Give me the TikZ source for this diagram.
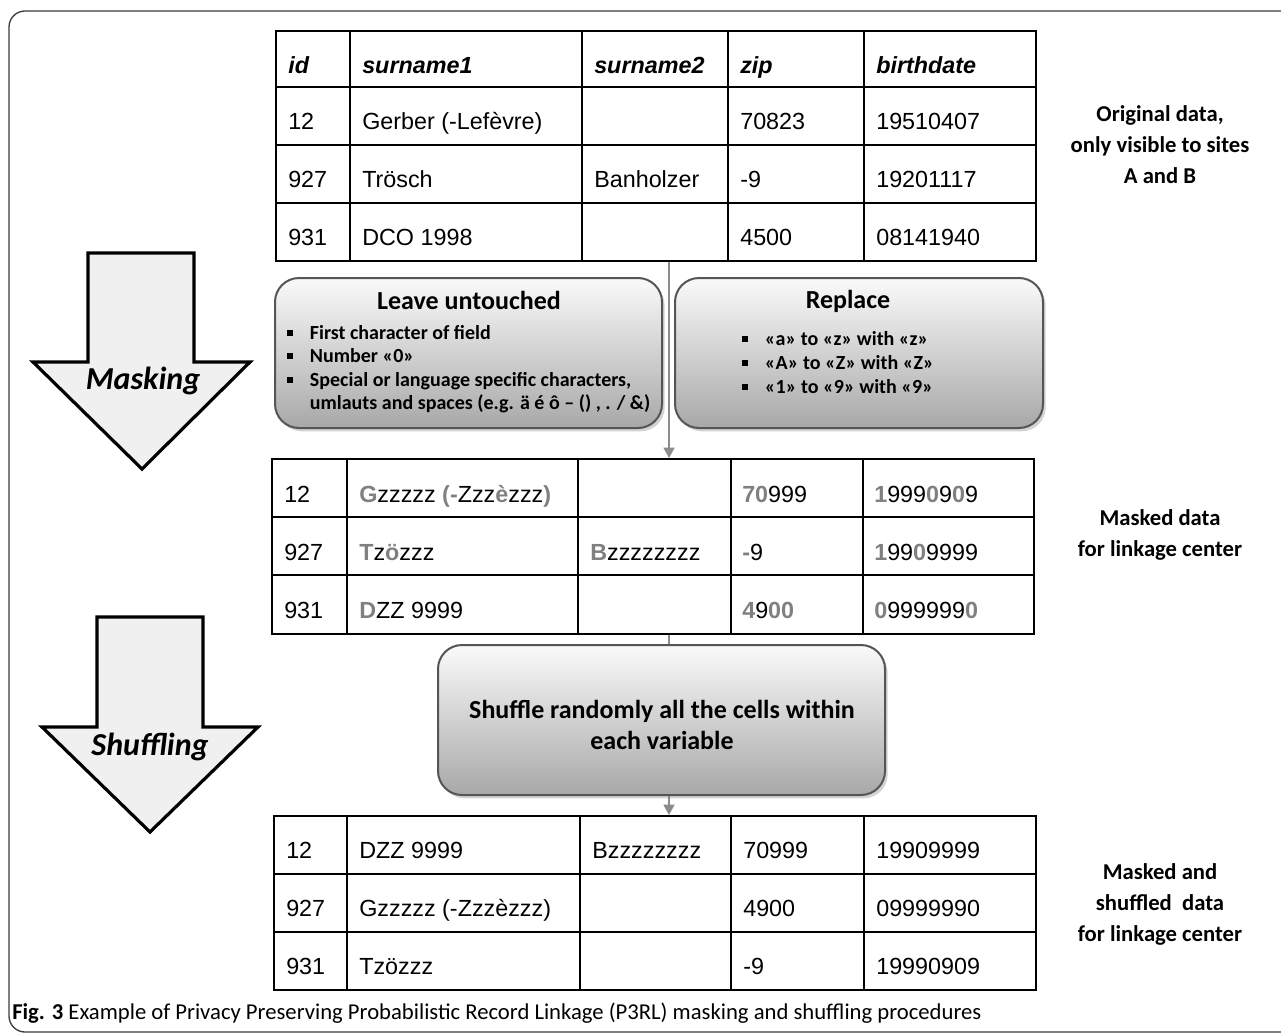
\documentclass[tikz,border=0pt]{standalone}
\usepackage{fontspec}
\setmainfont{Liberation Sans}
\newfontfamily\calfont{Carlito}
\usepackage{xcolor}
\usepackage{tikz}
\usetikzlibrary{arrows.meta, positioning, fit, calc, shadows}
\definecolor{framegray}{RGB}{60,60,60}
\definecolor{linkgray}{RGB}{140,140,140}
\definecolor{keepgray}{RGB}{128,128,128}
\definecolor{arrowfill}{RGB}{240,240,240}
\definecolor{boxtop}{RGB}{250,250,250}
\definecolor{boxbottom}{RGB}{168,168,168}
\definecolor{boxline}{RGB}{85,85,85}
\newcommand{\kp}[1]{\textcolor{keepgray}{\textbf{#1}}}
\newcommand{\bul}{\makebox[17pt][l]{\rule[2.5pt]{4.5pt}{4.5pt}}}
\tikzset{
  tabframe/.style={
      draw,
      line width=1.2pt,
      inner sep=0pt
  },
  gridline/.style={line width=1.2pt},
  cell/.style={
      anchor=base west,
      inner sep=0pt,
      font=\fontsize{17.5}{21}\selectfont
  },
  head/.style={
      cell,
      font=\fontsize{17.5}{21}\selectfont\bfseries\itshape
  },
  rulebox/.style={
      draw=boxline,
      line width=1.5pt,
      rounded corners=18pt,
      top color=boxtop,
      bottom color=boxbottom,
      drop shadow={shadow xshift=2pt, shadow yshift=-2.5pt, opacity=0.35},
      inner sep=0pt
  },
  boxtitle/.style={
      anchor=base,
      inner sep=0pt,
      font=\calfont\bfseries\fontsize{19.5}{23}\selectfont
  },
  bullets/.style={
      anchor=north west,
      inner sep=0pt,
      align=left
  },
  sidenote/.style={
      align=center,
      inner sep=0pt,
      font=\calfont\bfseries\fontsize{17}{23.25}\selectfont
  },
  stepshape/.style={draw, line width=2.4pt, fill=arrowfill, line join=miter},
  steplabel/.style={inner sep=0pt, font=\calfont\bfseries\itshape\fontsize{24}{28}\selectfont},
  link/.style={draw=linkgray, line width=2.2pt, -{Triangle[length=8pt,width=8pt]}}
}

\begin{document}
\begin{tikzpicture}[x=0.75pt, y=-0.75pt]
  \useasboundingbox (0,0) rectangle (1281,1035);
  % Outer frame
  \draw[framegray, line width=1pt, rounded corners=12pt] (1281,11) -- (9,11) -- (9,1032) -- (1281,1032);

  % Original data
  \node[tabframe, fit={(276,31)(1036,261)}] (orig) {};
  \foreach \x in {350,582,728,864} \draw[gridline] (\x,31) -- (\x,261);
  \foreach \y in {87,145,203} \draw[gridline] (276,\y) -- (1036,\y);
  \foreach \c/\x/\t in {1/288/id, 2/362/surname1, 3/594/surname2, 4/740/zip, 5/876/birthdate}
    \node[head] (orig-0-\c) at (\x,73) {\t};
  \foreach \r/\y/\a/\b/\c/\d/\e in {1/129/12/Gerber (-Lefèvre)//70823/19510407,
      2/187/927/Trösch/Banholzer/-9/19201117, 3/245/931/DCO 1998//4500/08141940} {
    \node[cell] (orig-\r-1) at (288,\y) {\a};
    \node[cell] (orig-\r-2) at (362,\y) {\b};
    \node[cell] (orig-\r-3) at (594,\y) {\c};
    \node[cell] (orig-\r-4) at (740,\y) {\d};
    \node[cell] (orig-\r-5) at (876,\y) {\e};
  }

  % Masked data
  \node[tabframe, fit={(272,459)(1034,634)}] (mask) {};
  \foreach \x in {347,578,731,863} \draw[gridline] (\x,459) -- (\x,634);
  \foreach \y in {517,575} \draw[gridline] (272,\y) -- (1034,\y);
  \foreach \r/\y/\a/\b/\c/\d/\e in {1/502/12/\kp{G}zzzzz \kp{(-}Zzz\kp{è}zzz\kp{)}//\kp{70}999/\kp{1}999\kp{0}9\kp{0}9,
      2/560/927/\kp{T}z\kp{ö}zzz/\kp{B}zzzzzzzz/\kp{-}9/\kp{1}99\kp{0}9999,
      3/618/931/\kp{D}ZZ 9999//\kp{4}9\kp{00}/\kp{0}999999\kp{0}} {
    \node[cell] (mask-\r-1) at (284,\y) {\a};
    \node[cell] (mask-\r-2) at (359,\y) {\b};
    \node[cell] (mask-\r-3) at (590,\y) {\c};
    \node[cell] (mask-\r-4) at (742,\y) {\d};
    \node[cell] (mask-\r-5) at (874,\y) {\e};
  }

  % Masked and shuffled data
  \node[tabframe, fit={(274,816)(1036,990)}] (final) {};
  \foreach \x in {347,580,731,864} \draw[gridline] (\x,816) -- (\x,990);
  \foreach \y in {874,932} \draw[gridline] (274,\y) -- (1036,\y);
  \foreach \r/\y/\a/\b/\c/\d/\e in {1/858/12/DZZ 9999/Bzzzzzzzz/70999/19909999,
      2/916/927/Gzzzzz (-Zzzèzzz)//4900/09999990, 3/974/931/Tzözzz//-9/19990909} {
    \node[cell] (final-\r-1) at (286,\y) {\a};
    \node[cell] (final-\r-2) at (359,\y) {\b};
    \node[cell] (final-\r-3) at (592,\y) {\c};
    \node[cell] (final-\r-4) at (743,\y) {\d};
    \node[cell] (final-\r-5) at (876,\y) {\e};
  }

  % Connections
  \coordinate (spine) at (669,0);
  \draw[link] (orig.south -| spine) -- (mask.north -| spine);
  \draw[link] (mask.south -| spine) -- (final.north -| spine);

  % Masking rules
  \node[rulebox, fit={(275,278)(662,428)}] (leave) {};
  \node[boxtitle] (leaveT) at (469,309) {Leave untouched};
  \node[bullets, font=\calfont\bfseries\fontsize{15}{17.6}\selectfont] (leaveL) at (287,325)
    {\bul First character of field\\
     \bul Number «0»\\
     \bul Special or language specific characters,\\
     \hspace*{17pt}umlauts and spaces (e.g. ä é ô – () , . / \&)};
  \node[rulebox, fit={(675,278)(1043,428)}] (replace) {};
  \node[boxtitle] (replaceT) at (848,308) {Replace};
  \node[bullets, font=\calfont\bfseries\fontsize{15}{18}\selectfont] (replaceL) at (742,331)
    {\bul «a» to «z» with «z»\\
     \bul «A» to «Z» with «Z»\\
     \bul «1» to «9» with «9»};

  % Shuffling rule
  \node[rulebox, fit={(438,645)(885,795)}] (shuffle) {};
  \node[align=center, inner sep=0pt, font=\calfont\bfseries\fontsize{19.5}{23.25}\selectfont] (shuffleT) at (662,725)
    {Shuffle randomly all the cells within\\each variable};

  % Step arrows
  \draw[stepshape] (88,253) -- (194,253) -- (194,362) -- (250,362) -- (142,469) -- (33,362) -- (88,362) -- cycle;
  \node[steplabel] (masking) at (143,381) {Masking};
  \draw[stepshape] (97,617) -- (203,617) -- (203,727) -- (258,727) -- (150,832) -- (42,727) -- (97,727) -- cycle;
  \node[steplabel] (shuffling) at (150,747) {Shuffling};

  % Side notes
  \node[sidenote] (origNote) at (1160,145) {Original data,\\only visible to sites\\A and B};
  \node[sidenote] (maskNote) at (1160,535) {Masked data\\for linkage center};
  \node[sidenote] (finalNote) at (1160,904) {Masked and\\shuffled~ data\\for linkage center};

  % Caption
  \node[anchor=base west, inner sep=0pt, font=\calfont\fontsize{17}{20}\selectfont] (caption) at (12,1019)
    {\textbf{Fig. 3} Example of Privacy Preserving Probabilistic Record Linkage (P3RL) masking and shuffling procedures};
\end{tikzpicture}
\end{document}
